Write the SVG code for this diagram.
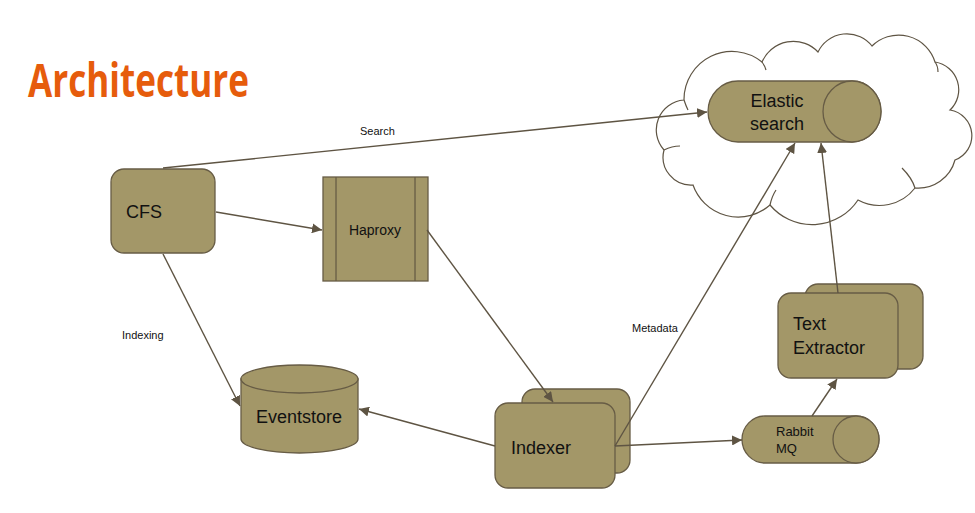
<svg xmlns="http://www.w3.org/2000/svg" width="975" height="513" viewBox="0 0 975 513">
<style>
.n{fill:#A39768;stroke:#675C45;stroke-width:1.3}
.t{font-family:"Liberation Sans",Arial,sans-serif;fill:#111}
.c{fill:none;stroke:#5E5443;stroke-width:1.4}
.l{font-family:"Liberation Sans",Arial,sans-serif;font-size:11px;fill:#111}
.cl{fill:#fff;stroke:#5E5443;stroke-width:1.2}
.tk{fill:none;stroke:#5E5443;stroke-width:1.2}
</style>
<defs>
<marker id="ah" viewBox="0 0 10 10" refX="10" refY="5" markerWidth="10" markerHeight="10" markerUnits="userSpaceOnUse" orient="auto">
<path d="M0,0 L10,5 L0,10 Z" fill="#5E5443"/>
</marker>
</defs>
<rect width="975" height="513" fill="#fff"/>
<text x="28" y="97" font-family="'Open Sans','Liberation Sans',sans-serif" font-weight="700" font-size="46" fill="#E65C0C" textLength="221" lengthAdjust="spacingAndGlyphs">Architecture</text>

<g id="cloud">
<path class="cl" d="M684,100 A48,48 0 0 1 762,62 A34,34 0 0 1 818,52 A32,32 0 0 1 872,46 A38,38 0 0 1 935,62 A28,28 0 0 1 950,110 A26,26 0 0 1 955,160 A38,38 0 0 1 915,188 A45,45 0 0 1 858,200 A55,55 0 0 1 770,205 A48,48 0 0 1 693,185 A28,28 0 0 1 664,150 A30,30 0 0 1 684,100 Z"/>
<path class="tk" d="M684,100 Q686,106 688,110 M762,62 Q765,66 766,70 M935,62 Q938,66 938,72 M915,188 Q912,178 902,168 M770,205 Q772,196 776,190 M664,150 Q672,146 680,146"/>
</g>

<g id="elastic">
<path class="n" d="M738,81 H852 A29,30.5 0 0 1 852,142 H738 A30,30.5 0 0 1 738,81 Z"/>
<ellipse class="n" cx="852" cy="111.5" rx="29" ry="30.5"/>
<text class="t" font-size="18" text-anchor="middle" x="777" y="107">Elastic</text>
<text class="t" font-size="18" text-anchor="middle" x="777" y="130">search</text>
</g>

<g id="cfs">
<rect class="n" x="111" y="169" width="104" height="84" rx="13"/>
<text class="t" font-size="18" x="126" y="218">CFS</text>
</g>

<g id="haproxy">
<rect class="n" x="323" y="177" width="105" height="104"/>
<line class="n" x1="336" y1="177" x2="336" y2="281"/>
<line class="n" x1="415" y1="177" x2="415" y2="281"/>
<text class="t" font-size="14" text-anchor="middle" x="375" y="235">Haproxy</text>
</g>

<g id="eventstore">
<path class="n" d="M241,379 V439 A58.5,14 0 0 0 358,439 V379 Z"/>
<ellipse class="n" cx="299.5" cy="379" rx="58.5" ry="14"/>
<text class="t" font-size="18" text-anchor="middle" x="299" y="423">Eventstore</text>
</g>

<g id="indexer">
<rect class="n" x="522" y="389" width="108" height="84" rx="13"/>
<rect class="n" x="495" y="403" width="120" height="85" rx="13"/>
<text class="t" font-size="18" x="511" y="454">Indexer</text>
</g>

<g id="rabbitmq">
<path class="n" d="M765,416 H856 A23,23.5 0 0 1 856,463 H765 A23,23.5 0 0 1 765,416 Z"/>
<ellipse class="n" cx="856" cy="439.5" rx="23" ry="23.5"/>
<text class="t" font-size="13" x="776" y="436">Rabbit</text>
<text class="t" font-size="13" x="776" y="453">MQ</text>
</g>

<g id="textextractor">
<rect class="n" x="805" y="284" width="118" height="85" rx="13"/>
<rect class="n" x="778" y="293" width="120" height="85" rx="13"/>
<text class="t" font-size="18" x="793" y="330">Text</text>
<text class="t" font-size="18" x="793" y="354">Extractor</text>
</g>

<g id="connectors">
<line class="c" x1="163" y1="168" x2="707" y2="112" marker-end="url(#ah)"/>
<line class="c" x1="216" y1="212" x2="322" y2="230" marker-end="url(#ah)"/>
<line class="c" x1="163" y1="254" x2="240" y2="406" marker-end="url(#ah)"/>
<line class="c" x1="427" y1="230" x2="553" y2="402" marker-end="url(#ah)"/>
<line class="c" x1="495" y1="446" x2="359" y2="409" marker-end="url(#ah)"/>
<line class="c" x1="615" y1="446" x2="795" y2="143" marker-end="url(#ah)"/>
<line class="c" x1="615" y1="446" x2="742" y2="440" marker-end="url(#ah)"/>
<line class="c" x1="812" y1="416" x2="837" y2="379" marker-end="url(#ah)"/>
<line class="c" x1="838" y1="293" x2="821" y2="143" marker-end="url(#ah)"/>
<text class="l" x="360" y="135">Search</text>
<text class="l" x="122" y="339">Indexing</text>
<text class="l" x="632" y="332">Metadata</text>
</g>
</svg>
